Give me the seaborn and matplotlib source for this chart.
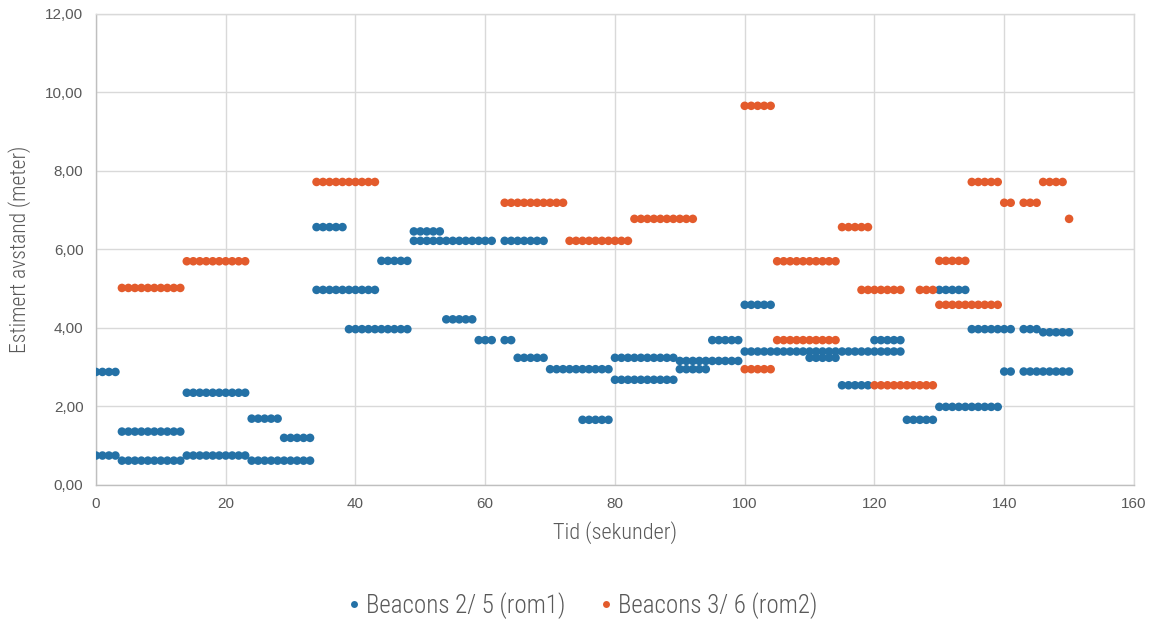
import matplotlib
matplotlib.use("Agg")
import matplotlib.pyplot as plt
from matplotlib import font_manager
import numpy as np
import pandas as pd
import seaborn as sns

# Estimated distance runs: (first second, last second, distance in metres)
rom1_runs = [
    (0, 3, 2.88), (0, 3, 0.75), (4, 13, 1.36), (4, 13, 0.62),
    (14, 23, 2.35), (14, 23, 0.75), (24, 28, 1.69), (29, 33, 1.20),
    (24, 33, 0.62), (34, 38, 6.57), (34, 43, 4.97), (39, 48, 3.97),
    (44, 48, 5.71), (49, 53, 6.46), (49, 61, 6.22), (54, 58, 4.22),
    (59, 61, 3.69), (63, 64, 3.69), (63, 69, 6.22), (65, 69, 3.24),
    (70, 79, 2.95), (75, 79, 1.66), (80, 89, 3.24), (80, 89, 2.68),
    (90, 94, 2.95), (90, 99, 3.16), (95, 99, 3.69), (100, 104, 4.59),
    (100, 124, 3.40), (110, 114, 3.24), (115, 119, 2.54), (120, 124, 3.69),
    (125, 129, 1.66), (130, 134, 4.97), (130, 139, 1.99), (135, 141, 3.97),
    (140, 141, 2.89), (143, 145, 3.97), (143, 150, 2.89), (146, 150, 3.89),
]

rom2_runs = [
    (4, 13, 5.02), (14, 23, 5.70), (34, 43, 7.72), (63, 72, 7.19),
    (73, 82, 6.22), (83, 92, 6.78), (100, 104, 9.66), (100, 104, 2.95),
    (105, 114, 5.70), (105, 114, 3.69), (115, 119, 6.57), (118, 124, 4.97),
    (120, 129, 2.54), (127, 129, 4.97), (130, 134, 5.71), (130, 139, 4.59),
    (135, 139, 7.72), (140, 141, 7.19), (143, 145, 7.19), (146, 149, 7.72),
    (150, 150, 6.78),
]

series_names = ["Beacons 2/ 5 (rom1)", "Beacons 3/ 6 (rom2)"]
series_colors = ["#2471A6", "#E35B2C"]


def expand(runs, name):
    rows = []
    for start, end, value in runs:
        for t in range(start, end + 1):
            rows.append((t, value, name))
    return rows


df = pd.DataFrame(
    expand(rom1_runs, series_names[0]) + expand(rom2_runs, series_names[1]),
    columns=["tid", "avstand", "serie"],
)

sns.set_theme(style="white")
available = {f.name for f in font_manager.fontManager.ttflist}
narrow = "DejaVu Sans"
for cand in ["Roboto Condensed", "Liberation Sans Narrow", "Open Sans Condensed",
             "Noto Sans Display", "Roboto", "Lato"]:
    if cand in available:
        narrow = cand
        break
plt.rcParams["font.family"] = ["Liberation Sans", "DejaVu Sans"]

label_font = dict(family=narrow, weight="light", stretch="condensed")

fig = plt.figure(figsize=(11.59, 6.24), dpi=100)
ax = fig.add_axes([0.0828, 0.2228, 0.8956, 0.7548])

sns.scatterplot(
    data=df, x="tid", y="avstand", hue="serie",
    hue_order=series_names, palette=series_colors,
    s=38, linewidth=0, edgecolor="none", ax=ax, legend=False, zorder=3,
)

ax.set_xlim(0, 160)
ax.set_ylim(0, 12)
ax.set_xticks(np.arange(0, 161, 20))
ax.set_yticks(np.arange(0, 12.1, 2))
ax.set_yticklabels([f"{v:.2f}".replace(".", ",") for v in np.arange(0, 12.1, 2)])
ax.grid(True, color="#D9D9D9", linewidth=1.0, zorder=0)
ax.set_axisbelow(True)
for side in ["top", "right"]:
    ax.spines[side].set_color("#D9D9D9")
    ax.spines[side].set_linewidth(1.0)
for side in ["left", "bottom"]:
    ax.spines[side].set_color("#BFBFBF")
    ax.spines[side].set_linewidth(1.0)
ax.tick_params(axis="both", length=0, labelsize=11, colors="#595959", pad=9)

ax.set_xlabel("Tid (sekunder)", fontsize=16, color="#595959", labelpad=7, **label_font)
ax.set_ylabel("Estimert avstand (meter)", fontsize=15.5, color="#595959", labelpad=10, **label_font)

handles = [
    plt.Line2D([], [], marker="o", linestyle="none", markersize=5,
               markerfacecolor=c, markeredgecolor="none")
    for c in series_colors
]
fig.legend(
    handles, series_names, loc="center", bbox_to_anchor=(0.5, 0.03),
    ncol=2, frameon=False, handletextpad=0.0, columnspacing=1.1,
    handlelength=1.0,
    prop=dict(size=18, **label_font), labelcolor="#595959",
)

fig.savefig("out.png", dpi=100)
